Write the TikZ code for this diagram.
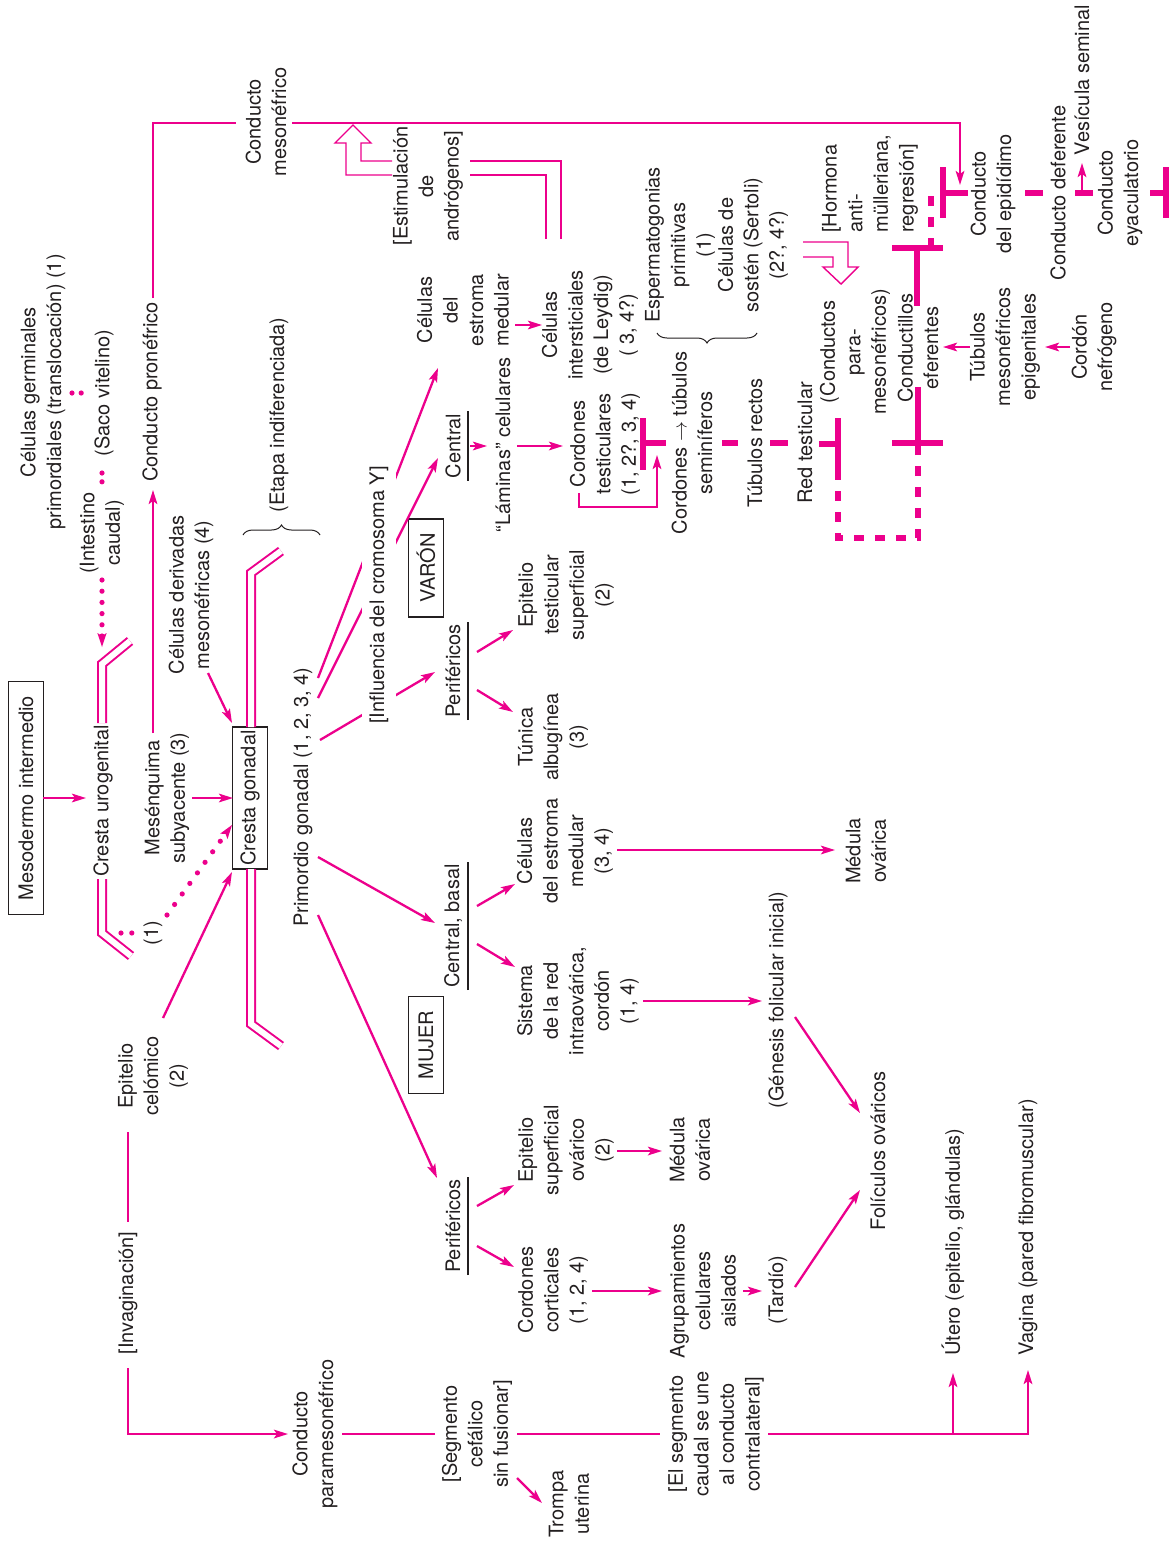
\documentclass[tikz,border=0pt]{standalone}
\usepackage{fontspec}
\setmainfont{TeX Gyre Heros}
\usetikzlibrary{arrows.meta,decorations.pathreplacing}
\definecolor{rosa}{RGB}{236,0,140}
\definecolor{tinta}{RGB}{35,31,32}

\begin{document}
\begin{tikzpicture}[x=0.5pt, y=-0.5pt, font=\fontsize{10}{12.8}\selectfont,
  txt/.style={rotate=90, align=center, inner sep=1pt, text=tinta},
  caja/.style={txt, draw=tinta, line width=0.6pt, minimum height=17.5pt},
  lin/.style={draw=rosa, line width=1.15pt},
  fl/.style={lin, -{Stealth[length=7pt, width=4.3pt, inset=1.5pt]}},
  punt/.style={draw=rosa, line width=2.6pt, line cap=round, dash pattern=on 0pt off 6pt},
  puntfl/.style={punt, -{Stealth[length=7pt, width=4.6pt, inset=1.5pt, line width=0pt]}},
  barra/.style={draw=rosa, line width=3pt},
  barrad/.style={barra, dash pattern=on 5pt off 5.5pt},
  hueco/.style={draw=rosa, line width=0.7pt},
  doble/.style={draw=rosa, line width=1pt, double=white, double distance=3pt},
  llave/.style={draw=tinta, line width=0.5pt, decorate, decoration={brace, amplitude=5pt}},
  raya/.style={draw=tinta, line width=0.6pt}]
\useasboundingbox (0,0) rectangle (1174,1547);

% etapa indiferenciada
\node[caja, minimum width=116.5pt] (mesint) at (26,798) {Mesodermo intermedio};
\node[txt] (crurog) at (103,801) {Cresta urogenital};
\node[txt] (celger) at (43,392) {Células germinales\\primordiales (translocación) (1)};
\node[txt] (saco) at (104,393) {(Saco vitelino)};
\node[txt] (intest) at (102,533) {(Intestino\\caudal)};
\node[txt] (pronef) at (152,392) {Conducto pronéfrico};
\node[txt] (mesonef) at (266,122) {Conducto\\mesonéfrico};
\node[txt] (androg) at (428,186) {[Estimulación\\de\\andrógenos]};
\node[txt] (derivm) at (191,595) {Células derivadas\\mesonéfricas (4)};
\node[txt] (mesenq) at (167,798) {Mesénquima\\subyacente (3)};
\node[txt] (uno) at (153,933) {(1)};
\node[txt] (epicel) at (153,1076) {Epitelio\\celómico\\(2)};
\node[caja, minimum width=71pt, inner xsep=1.5pt] (crgon) at (250,798) {Cresta gonadal};
\node[txt] (etapa) at (279,415) {(Etapa indiferenciada)};
\node[txt] (primord) at (303,797) {Primordio gonadal (1, 2, 3, 4)};

% varon
\node[caja, minimum width=49pt] (varon) at (426,568) {VARÓN};
\node[txt] (centm) at (453,446) {Central};
\node[txt] (perim) at (453,671) {Periféricos};
\node[txt] (cemm) at (463,310) {Células\\del\\estroma\\medular};
\node[txt] (lamin) at (503,445) {“Láminas” celulares};
\node[txt] (leydig) at (590,325) {Células\\intersticiales\\(de Leydig)\\( 3, 4?)};
\node[txt] (cortest) at (605,444) {Cordones\\testiculares\\(1, 2?, 3, 4)};
\node[txt] (epites) at (566,595) {Epitelio\\testicular\\superficial\\(2)};
\node[txt] (tunica) at (553,737) {Túnica\\albugínea\\(3)};
\node[txt] (esperm) at (680,245) {Espermatogonias\\primitivas\\(1)};
\node[txt] (sertoli) at (753,245) {Células de\\sostén (Sertoli)\\(2?, 4?)};
\node[txt] (tubsem) at (692,443) {Cordones $\rightarrow$ túbulos\\seminíferos};
\node[txt] (tubrec) at (755,443) {Túbulos rectos};
\node[txt] (redtes) at (805,443) {Red testicular};
\node[txt, align=left, anchor=west] (hormona) at (870,235) {[Hormona\\anti-\\mülleriana,\\regresión]};
\node[txt] (paramn) at (855,352) {(Conductos\\para-\\mesonéfricos)};
\node[txt] (eferen) at (918,348) {Conductillos\\eferentes};
\node[txt] (epidid) at (993,194) {Conducto\\del epidídimo};
\node[txt] (tubmes) at (1005,347) {Túbulos\\mesonéfricos\\epigenitales};
\node[txt] (defer) at (1058,193) {Conducto deferente};
\node[txt] (vesic) at (1082,80) {Vesícula seminal};
\node[txt] (eyacul) at (1120,193) {Conducto\\eyaculatorio};
\node[txt] (nefrog) at (1094,347) {Cordón\\nefrógeno};

% mujer
\node[caja, minimum width=48.5pt] (mujer) at (426,1045) {MUJER};
\node[txt] (centf) at (453,926) {Central, basal};
\node[txt] (perif) at (453,1226) {Periféricos};
\node[txt] (cemf) at (565,851) {Células\\del estroma\\medular\\(3, 4)};
\node[txt] (medov1) at (866,851) {Médula\\ovárica};
\node[txt] (sistema) at (578,1001) {Sistema\\de la red\\intraovárica,\\cordón\\(1, 4)};
\node[txt] (genesis) at (778,1000) {(Génesis folicular inicial)};
\node[txt] (folic) at (878,1151) {Folículos ováricos};
\node[txt] (episov) at (566,1150) {Epitelio\\superficial\\ovárico\\(2)};
\node[txt] (medov2) at (690,1150) {Médula\\ovárica};
\node[txt] (corcort) at (553,1290) {Cordones\\corticales\\(1, 2, 4)};
\node[txt] (agrup) at (703,1291) {Agrupamientos\\celulares\\aislados};
\node[txt] (tardio) at (778,1290) {(Tardío)};
\node[txt] (invag) at (128,1293) {[Invaginación]};
\node[txt] (parame) at (315,1434) {Conducto\\paramesonéfrico};
\node[txt] (segcef) at (477,1434) {[Segmento\\cefálico\\sin fusionar]};
\node[txt] (trompa) at (569,1504) {Trompa\\uterina};
\node[txt] (segcau) at (716,1434) {[El segmento\\caudal se une\\al conducto\\contralateral]};
\node[txt, anchor=west] (utero) at (953,1358) {Útero (epitelio, glándulas)};
\node[txt, anchor=west] (vagina) at (1028,1358) {Vagina (pared fibromuscular)};

% celulas germinales
\draw[punt, dash pattern=on 0pt off 4.6pt] ([shift={(29,1)}]celger.center) -- ([shift={(-21,0)}]saco.center);
\draw[punt, dash pattern=on 0pt off 4.4pt] ([shift={(-2,80)}]saco.center) -- ([shift={(0,-51)}]intest.center);
\draw[puntfl, dash pattern=on 0pt off 5.6pt] ([shift={(0,47)}]intest.center) -- ([shift={(-1,-154)}]crurog.center);
\draw[punt, dash pattern=on 0pt off 5.4pt] ([shift={(18,132)}]crurog.center) -- ([shift={(-21,0)}]uno.center);
\draw[puntfl, dash pattern=on 0pt off 6.5pt] ([shift={(14,-18)}]uno.center) -- ([shift={(-18,27)}]crgon.center);

\draw[doble] ([shift={(-1,-78)}]crurog.center) -- ++(0,-59) -- ++(28,-23);
\draw[doble] ([shift={(-1,78)}]crurog.center) -- ++(0,54) -- ++(29,23);
\draw[doble] ([shift={(1,-71)}]crgon.center) -- ++(0,-154) -- ++(30,-22);
\draw[doble] ([shift={(1,71)}]crgon.center) -- ++(0,155) -- ++(30,22);
\draw[llave] ([shift={(-36,120)}]etapa.center) -- ([shift={(41,120)}]etapa.center);

\draw[fl] ([shift={(17,0)}]mesint.center) -- ([shift={(-17,-3)}]crurog.center);
\draw[fl] ([shift={(-14,-65)}]mesenq.center) -- ([shift={(1,98)}]pronef.center);
\draw[lin] ([shift={(1,-94)}]pronef.center) |- ([shift={(-30,1)}]mesonef.center);
\draw[fl] ([shift={(26,1)}]mesonef.center) -| ([shift={(-33,-9)}]epidid.center);
\draw[fl] ([shift={(25,0)}]mesenq.center) -- ([shift={(-17,0)}]crgon.center);
\draw[fl] ([shift={(17,78)}]derivm.center) -- ([shift={(-18,-75)}]crgon.center);
\draw[fl] ([shift={(10,-58)}]epicel.center) -- ([shift={(-18,74)}]crgon.center);

% primordio gonadal
\draw[fl] ([shift={(15,-119)}]primord.center) -- ([shift={(-25,58)}]cemm.center);
\draw[fl] ([shift={(15,-99)}]primord.center) -- ([shift={(-15,12)}]centm.center);
\draw[fl] ([shift={(17,-57)}]primord.center) -- ([shift={(-18,1)}]perim.center);
\node[txt, fill=white, inner ysep=4pt] (influ) at (379,595) {[Influencia del cromosoma Y]};
\draw[fl] ([shift={(15,60)}]primord.center) -- ([shift={(-18,-3)}]centf.center);
\draw[fl] ([shift={(15,118)}]primord.center) -- ([shift={(-16,-48)}]perif.center);

\foreach \n in {centm, perim, centf, perif}
  \draw[raya] ([xshift=7.5pt]\n.west) -- ([xshift=7.5pt]\n.east);

% ramas del varon
\draw[fl] ([shift={(17,0)}]centm.center) -- ([shift={(-16,1)}]lamin.center);
\draw[fl] ([shift={(14,1)}]lamin.center) -- ([shift={(-42,2)}]cortest.center);
\draw[fl] ([shift={(52,15)}]cemm.center) -- ([shift={(-48,0)}]leydig.center);
\draw[fl] ([shift={(-26,49)}]cortest.center) -- ++(0,14) -| ([shift={(-35,12)}]tubsem.center);
\draw[fl] ([shift={(24,-19)}]perim.center) -- ([shift={(-53,35)}]epites.center);
\draw[fl] ([shift={(24,19)}]perim.center) -- ([shift={(-40,-25)}]tunica.center);
\draw[llave] ([shift={(77,88)}]esperm.center) -- ([shift={(-23,88)}]esperm.center);

\draw[hueco] ([shift={(-36,-11)}]androg.center) -- ++(-46,0) -- ++(0,-32) -- ++(-11,0) -- ++(18,-18) -- ++(18,18) -- ++(-10,0) -- ++(0,18) -- ++(31,0);
\draw[hueco] ([shift={(-44,-86)}]leydig.center) |- ([shift={(42,-11)}]androg.center);
\draw[hueco] ([shift={(-29,-86)}]leydig.center) |- ([shift={(42,-25)}]androg.center);
\draw[hueco] ([shift={(50,-3)}]sertoli.center) -- ++(45,0) -- ++(0,25) -- ++(10,0) -- ++(-17,17) -- ++(-18,-17) -- ++(10,0) -- ++(0,-10) -- ++(-30,0);

\draw[barra] ([shift={(38,-26)}]cortest.center) -- ++(0,52);
\draw[barra] ([shift={(38,-1)}]cortest.center) -- ([shift={(-26,0)}]tubsem.center);
\draw[barra] ([shift={(30,0)}]tubsem.center) -- ([shift={(-17,0)}]tubrec.center);
\draw[barra] ([shift={(15,0)}]tubrec.center) -- ([shift={(-17,0)}]redtes.center);
\draw[barra] ([shift={(14,1)}]redtes.center) -- ++(19,0);
\draw[barra] ([shift={(33,-25)}]redtes.center) -- ++(0,52);
\draw[barrad] ([shift={(33,27)}]redtes.center) -- ++(0,68) -| ([shift={(0,95)}]eferen.center);
\draw[barra] ([shift={(-26,-100)}]eferen.center) -- ++(51,0);
\draw[barra] ([shift={(-1,-100)}]eferen.center) -- ++(0,58);
\draw[barra] ([shift={(-26,95)}]eferen.center) -- ++(51,0);
\draw[barra] ([shift={(0,95)}]eferen.center) -- ++(0,-56);
\draw[barrad] ([shift={(13,-100)}]eferen.center) -- ([shift={(-62,-4)}]epidid.center);
\draw[barra] ([shift={(-50,-27)}]epidid.center) -- ++(0,51);
\draw[barra] ([shift={(-50,-1)}]epidid.center) -- ++(25,0);
\draw[barra] ([shift={(32,-1)}]epidid.center) -- ([shift={(-15,0)}]defer.center);
\draw[barra] ([shift={(17,0)}]defer.center) -- ([shift={(-27,0)}]eyacul.center);
\draw[fl] ([shift={(24,0)}]defer.center) -- ([shift={(0,83)}]vesic.center);
\draw[barra] ([shift={(30,0)}]eyacul.center) -- ++(18,0);
\draw[barra] ([shift={(46,-26)}]eyacul.center) -- ++(0,51);
\draw[fl] ([shift={(-35,0)}]tubmes.center) -- ([shift={(25,-1)}]eferen.center);
\draw[fl] ([shift={(-24,0)}]nefrog.center) -- ([shift={(40,0)}]tubmes.center);

% ramas de la mujer
\draw[fl] ([shift={(24,-20)}]centf.center) -- ([shift={(-50,33)}]cemf.center);
\draw[fl] ([shift={(24,18)}]centf.center) -- ([shift={(-63,-34)}]sistema.center);
\draw[fl] ([shift={(52,-1)}]cemf.center) -- ([shift={(-31,-1)}]medov1.center);
\draw[fl] ([shift={(65,0)}]sistema.center) -- ([shift={(-16,1)}]genesis.center);
\draw[fl] ([shift={(17,17)}]genesis.center) -- ([shift={(-18,-38)}]folic.center);
\draw[fl] ([shift={(24,-20)}]perif.center) -- ([shift={(-52,35)}]episov.center);
\draw[fl] ([shift={(24,20)}]perif.center) -- ([shift={(-39,-23)}]corcort.center);
\draw[fl] ([shift={(51,1)}]episov.center) -- ([shift={(-28,1)}]medov2.center);
\draw[fl] ([shift={(39,1)}]corcort.center) -- ([shift={(-41,0)}]agrup.center);
\draw[fl] ([shift={(40,0)}]agrup.center) -- ([shift={(-16,1)}]tardio.center);
\draw[fl] ([shift={(17,-3)}]tardio.center) -- ([shift={(-18,39)}]folic.center);

% conducto paramesonefrico
\draw[lin] ([shift={(-25,56)}]epicel.center) -- ([shift={(0,-71)}]invag.center);
\draw[fl] ([shift={(0,75)}]invag.center) |- ([shift={(-27,0)}]parame.center);
\draw[lin] ([shift={(27,0)}]parame.center) -- ([shift={(-42,0)}]segcef.center);
\draw[lin] ([shift={(40,0)}]segcef.center) -- ([shift={(-56,0)}]segcau.center);
\draw[fl] ([shift={(40,44)}]segcef.center) -- ([shift={(-27,-1)}]trompa.center);
\draw[fl] ([shift={(52,0)}]segcau.center) -| ([shift={(0,15)}]utero.west);
\draw[fl] (utero.west |- segcau.center) -| ([shift={(0,12)}]vagina.west);
\end{tikzpicture}
\end{document}
